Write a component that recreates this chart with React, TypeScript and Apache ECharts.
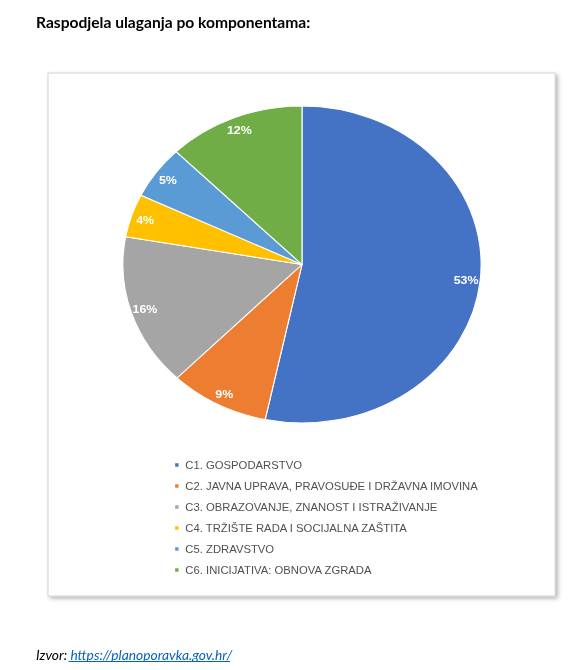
import React, { useEffect, useRef } from 'react';
import * as echarts from 'echarts';

// horizontal stretch of the original chart picture
const S = 1.13;

const categories = [
  'C1. GOSPODARSTVO',
  'C2. JAVNA UPRAVA, PRAVOSUĐE I DRŽAVNA IMOVINA',
  'C3. OBRAZOVANJE, ZNANOST I ISTRAŽIVANJE',
  'C4. TRŽIŠTE RADA I SOCIJALNA ZAŠTITA',
  'C5. ZDRAVSTVO',
  'C6. INICIJATIVA: OBNOVA ZGRADA',
];
const shares = [53.3, 9.0, 15.5, 4.4, 5.4, 12.4];
const colors = ['#4472C4', '#ED7D31', '#A5A5A5', '#FFC000', '#5B9BD5', '#70AD47'];
const titleText = 'Raspodjela ulaganja po komponentama:';
const sourceLabel = 'Izvor: ';
const sourceUrl = 'https://planoporavka.gov.hr/';

export default function App() {
  const ref = useRef<HTMLDivElement>(null);

  useEffect(() => {
    if (!ref.current) return;
    const chart = echarts.init(ref.current, undefined, { renderer: 'svg' });
    const data = categories.map((name, i) => ({ name, value: shares[i] }));
    const cx = 302 / S;
    const cy = 264.5;
    chart.setOption({
      animation: false,
      color: colors,
      legend: {
        orient: 'vertical',
        left: 153,
        top: 459,
        padding: 0,
        itemWidth: 5,
        itemHeight: 5.5,
        itemGap: 9,
        icon: 'rect',
        selectedMode: false,
        data: categories,
        textStyle: {
          fontFamily: 'Liberation Sans',
          fontSize: 10,
          color: '#505050',
          lineHeight: 12,
        },
      },
      graphic: [
        {
          type: 'group',
          x: 0,
          y: 0,
          scaleX: 1 / S,
          silent: true,
          children: [
            {
              type: 'rect',
              shape: { x: 48, y: 73, width: 507, height: 523 },
              style: {
                fill: '#fff',
                stroke: '#d4d4d4',
                lineWidth: 1,
                shadowBlur: 4,
                shadowOffsetX: 2,
                shadowOffsetY: 2,
                shadowColor: 'rgba(0,0,0,0.3)',
              },
            },
            {
              type: 'text',
              x: 36,
              y: 22,
              style: {
                text: titleText,
                fontFamily: 'Lato',
                fontWeight: 'bold',
                fontSize: 15.6,
                fill: '#000',
                verticalAlign: 'middle',
              },
            },
            {
              type: 'text',
              x: 36,
              y: 655,
              style: {
                text: '{a|' + sourceLabel + '}{b|' + sourceUrl + '}',
                fontFamily: 'Lato',
                fontStyle: 'italic',
                fontSize: 13.8,
                verticalAlign: 'middle',
                rich: {
                  a: { fill: '#000', fontFamily: 'Lato', fontStyle: 'italic', fontSize: 13.8 },
                  b: { fill: '#0563C1', fontFamily: 'Lato', fontStyle: 'italic', fontSize: 13.8 },
                },
              },
            },
            {
              type: 'line',
              shape: { x1: 68.5, y1: 661.5, x2: 230, y2: 661.5 },
              style: { stroke: '#0563C1', lineWidth: 1 },
            },
          ],
        },
      ],
      series: [
        {
          type: 'pie',
          name: 'shares',
          center: [cx, cy],
          radius: 158.5,
          startAngle: 90,
          clockwise: true,
          data,
          silent: true,
          label: { show: false },
          labelLine: { show: false },
          itemStyle: { borderColor: '#fff', borderWidth: 1 },
          emphasis: { disabled: true },
          z: 2,
        },
        {
          type: 'pie',
          name: 'labels',
          center: [cx, cy],
          radius: 286,
          startAngle: 90,
          clockwise: true,
          data,
          silent: true,
          itemStyle: { color: 'rgba(0,0,0,0)' },
          labelLine: { show: false },
          emphasis: { disabled: true },
          label: {
            show: true,
            position: 'inside',
            formatter: (p: any) => Math.round(p.percent) + '%',
            color: '#fff',
            fontFamily: 'Liberation Sans',
            fontWeight: 'bold',
            fontSize: 11,
          },
          z: 3,
        },
      ],
    });
    return () => chart.dispose();
  }, []);

  return (
    <div
      style={{
        position: 'absolute',
        left: 0,
        top: 0,
        width: 580,
        height: 670,
        overflow: 'hidden',
        background: '#fff',
      }}
    >
      <div
        ref={ref}
        style={{
          width: 580 / S,
          height: 670,
          transform: `scaleX(${S})`,
          transformOrigin: '0 0',
        }}
      />
    </div>
  );
}
